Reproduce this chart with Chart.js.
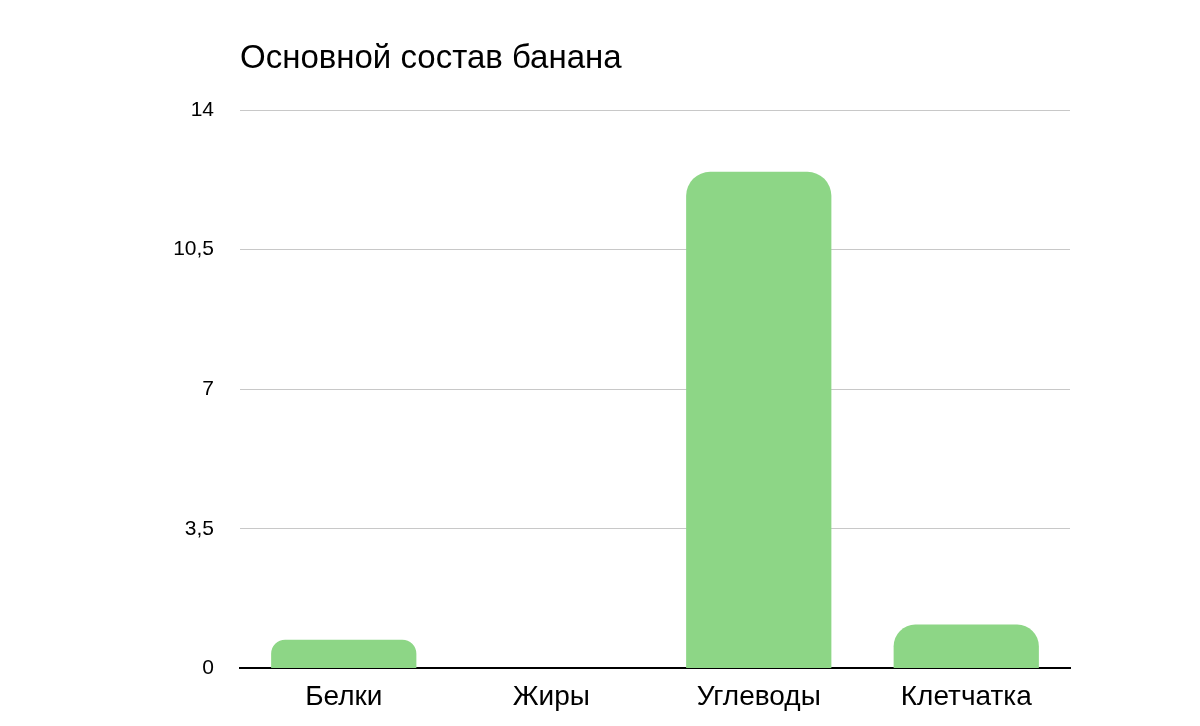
<!DOCTYPE html>
<html><head><meta charset="utf-8">
<script src="https://cdn.jsdelivr.net/npm/chart.js@4/dist/chart.umd.min.js"></script>
<style>html,body{margin:0;background:#fff}#w{width:1200px;height:726px}</style>
</head><body><div id="w"><canvas id="c"></canvas></div>
<script>
const categories = ["Белки", "Жиры", "Углеводы", "Клетчатка"];
const values = [0.72, 0, 12.45, 1.1];
const yTicks = [0, 3.5, 7, 10.5, 14];
const titleText = "Основной состав банана";

const titlePlugin = {
  id: 'leftTitle',
  afterDraw(chart) {
    const ctx = chart.ctx;
    ctx.save();
    ctx.font = '33px "Liberation Sans", Arial, sans-serif';
    ctx.fillStyle = '#000';
    ctx.textBaseline = 'alphabetic';
    ctx.fillText(titleText, chart.chartArea.left, 68);
    ctx.restore();
  }
};

new Chart(document.getElementById('c'), {
  type: 'bar',
  data: { labels: categories, datasets: [{ data: values, backgroundColor: '#8dd686',
    borderRadius: { topLeft: 24, topRight: 24, bottomLeft: 0, bottomRight: 0 }, borderSkipped: 'bottom',
    categoryPercentage: 0.7, barPercentage: 1 }] },
  options: {
    responsive: true, maintainAspectRatio: false, animation: false,
    layout: { padding: { top: 110, right: 130, left: 0, bottom: 8 } },
    plugins: { legend: { display: false }, tooltip: { enabled: false } },
    scales: {
      x: { grid: { display: false }, border: { color: '#000', width: 2 },
        ticks: { color: '#000', font: { size: 28, family: '"Liberation Sans", Arial, sans-serif' }, padding: 4 } },
      y: { min: 0, max: 14, afterFit(s) { s.width = 240; },
        afterBuildTicks(s) { s.ticks = yTicks.map(v => ({ value: v })); },
        grid: { color: '#c8c8c8', lineWidth: 1, drawTicks: false },
        border: { display: false },
        ticks: { color: '#000', padding: 26, font: { size: 21, family: '"Liberation Sans", Arial, sans-serif' },
          callback: v => String(v).replace('.', ',') } }
    }
  },
  plugins: [titlePlugin]
});
</script></body></html>
